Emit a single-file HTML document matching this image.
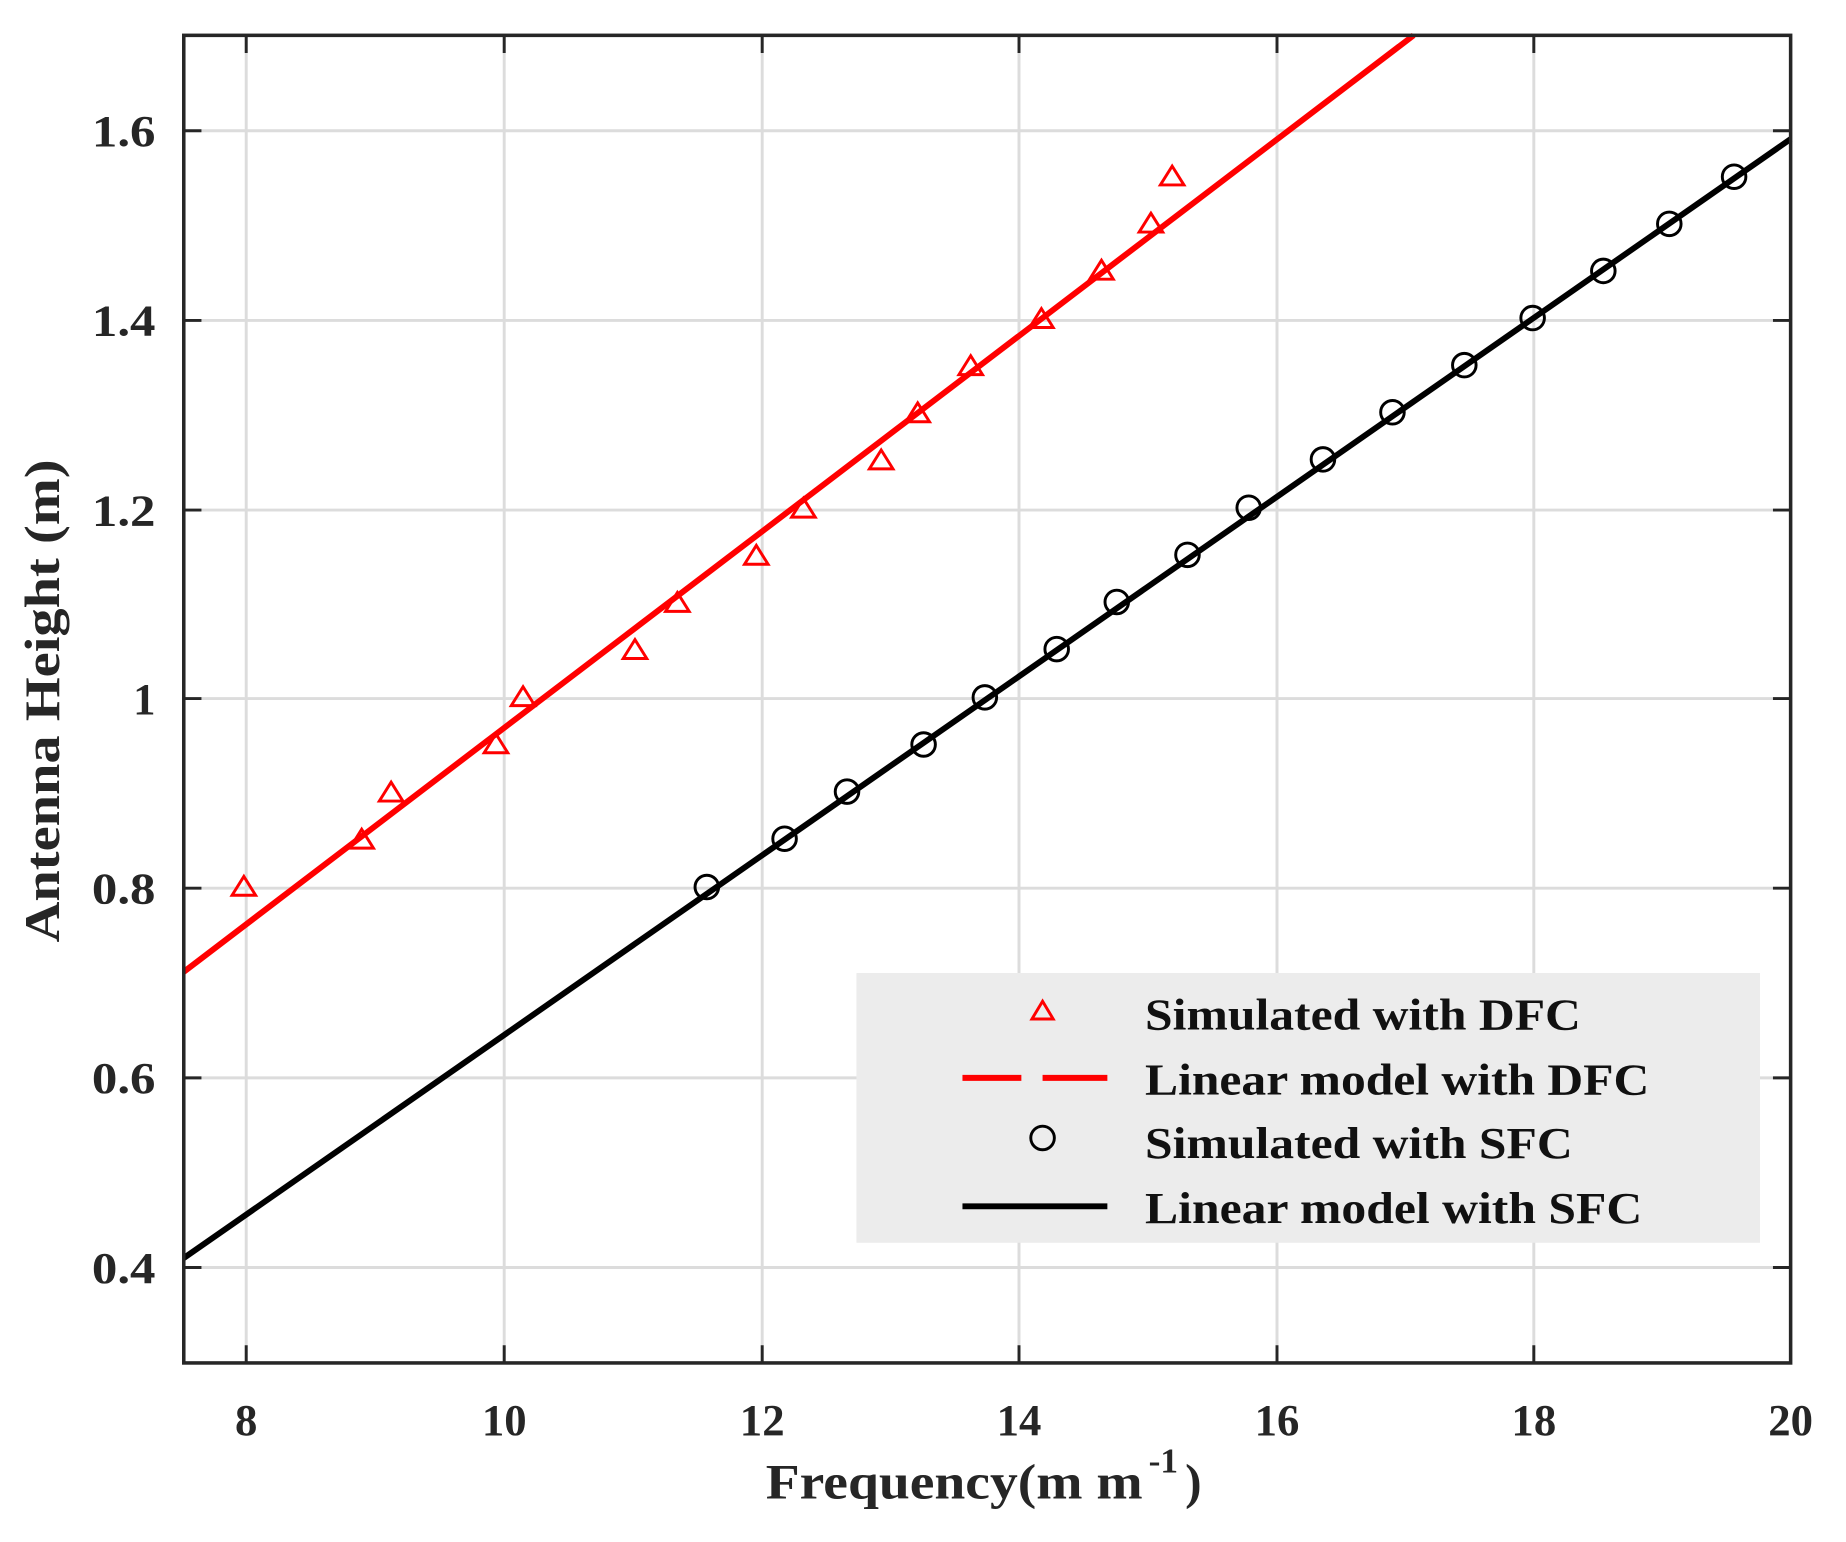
<!DOCTYPE html>
<html><head><meta charset="utf-8"><style>html,body{margin:0;padding:0;background:#fff}svg{display:block}</style></head><body>
<svg width="1846" height="1542" viewBox="0 0 1567 1309" preserveAspectRatio="none" xmlns="http://www.w3.org/2000/svg" font-family="Liberation Serif, serif" font-weight="bold">
<rect x="0" y="0" width="1567" height="1309" fill="#fff"/>
<g stroke="#dcdcdc" stroke-width="2.5">
<line x1="209" y1="30" x2="209" y2="1157"/><line x1="428" y1="30" x2="428" y2="1157"/><line x1="647" y1="30" x2="647" y2="1157"/><line x1="865" y1="30" x2="865" y2="1157"/><line x1="1084" y1="30" x2="1084" y2="1157"/><line x1="1302" y1="30" x2="1302" y2="1157"/>
<line x1="156" y1="111" x2="1520" y2="111"/><line x1="156" y1="272" x2="1520" y2="272"/><line x1="156" y1="433" x2="1520" y2="433"/><line x1="156" y1="593" x2="1520" y2="593"/><line x1="156" y1="754" x2="1520" y2="754"/><line x1="156" y1="915" x2="1520" y2="915"/><line x1="156" y1="1076" x2="1520" y2="1076"/>
</g>
<g stroke="#262626" stroke-width="2.5">
<path d="M209 30v15M428 30v15M647 30v15M865 30v15M1084 30v15M1302 30v15M209 1157v-15M428 1157v-15M647 1157v-15M865 1157v-15M1084 1157v-15M1302 1157v-15"/>
<path d="M156 111h15M156 272h15M156 433h15M156 593h15M156 754h15M156 915h15M156 1076h15M1520 111h-15M1520 272h-15M1520 433h-15M1520 593h-15M1520 754h-15M1520 915h-15M1520 1076h-15"/>
</g>
<line x1="156" y1="825" x2="1200" y2="30" stroke="#f00" stroke-width="5"/>
<line x1="156" y1="1068" x2="1520" y2="118" stroke="#000" stroke-width="5"/>
<g fill="none" stroke="#f00" stroke-width="2.5">
<polygon points="207,744 197,760 217,760"/><polygon points="307,704 297,720 317,720"/><polygon points="332,664 322,680 342,680"/><polygon points="421,623 411,639 431,639"/><polygon points="444,583 434,599 454,599"/><polygon points="539,543 529,559 549,559"/><polygon points="575,503 565,519 585,519"/><polygon points="642,463 632,479 652,479"/><polygon points="682,423 672,439 692,439"/><polygon points="748,382 738,398 758,398"/><polygon points="779,342 769,358 789,358"/><polygon points="824,302 814,318 834,318"/><polygon points="884,262 874,278 894,278"/><polygon points="935,221 925,237 945,237"/><polygon points="977,181 967,197 987,197"/><polygon points="995,141 985,157 1005,157"/>
</g>
<g fill="none" stroke="#000" stroke-width="2.5">
<circle cx="600" cy="753" r="10"/><circle cx="666" cy="712" r="10"/><circle cx="719" cy="672" r="10"/><circle cx="784" cy="632" r="10"/><circle cx="836" cy="592" r="10"/><circle cx="897" cy="551" r="10"/><circle cx="948" cy="511" r="10"/><circle cx="1008" cy="471" r="10"/><circle cx="1060" cy="431" r="10"/><circle cx="1123" cy="390" r="10"/><circle cx="1182" cy="350" r="10"/><circle cx="1243" cy="310" r="10"/><circle cx="1301" cy="270" r="10"/><circle cx="1361" cy="230" r="10"/><circle cx="1417" cy="190" r="10"/><circle cx="1472" cy="150" r="10"/>
</g>
<rect x="156" y="30" width="1364" height="1127" fill="none" stroke="#262626" stroke-width="3"/>
<rect x="727" y="826" width="767" height="229" fill="#ececec"/>
<polygon points="885,850 876,865 894,865" fill="none" stroke="#f00" stroke-width="2.5"/>
<path d="M817 915h50M885 915h55" stroke="#f00" stroke-width="5"/>
<circle cx="885" cy="966" r="10" fill="none" stroke="#000" stroke-width="2.5"/>
<path d="M817 1024h123" stroke="#000" stroke-width="5"/>
<g font-size="38" fill="#111">
<text x="972" y="874" textLength="370" lengthAdjust="spacingAndGlyphs">Simulated with DFC</text>
<text x="972" y="929" textLength="428" lengthAdjust="spacingAndGlyphs">Linear model with DFC</text>
<text x="972" y="983" textLength="363" lengthAdjust="spacingAndGlyphs">Simulated with SFC</text>
<text x="972" y="1038" textLength="422" lengthAdjust="spacingAndGlyphs">Linear model with SFC</text>
</g>
<g font-size="38" fill="#262626" text-anchor="end">
<text x="132" y="124" textLength="54" lengthAdjust="spacingAndGlyphs">1.6</text><text x="132" y="285" textLength="54" lengthAdjust="spacingAndGlyphs">1.4</text><text x="132" y="446" textLength="54" lengthAdjust="spacingAndGlyphs">1.2</text><text x="132" y="606">1</text><text x="132" y="767" textLength="54" lengthAdjust="spacingAndGlyphs">0.8</text><text x="132" y="928" textLength="54" lengthAdjust="spacingAndGlyphs">0.6</text><text x="132" y="1089" textLength="54" lengthAdjust="spacingAndGlyphs">0.4</text>
</g>
<g font-size="38" fill="#262626" text-anchor="middle">
<text x="209" y="1218">8</text><text x="428" y="1218">10</text><text x="647" y="1218">12</text><text x="865" y="1218">14</text><text x="1084" y="1218">16</text><text x="1302" y="1218">18</text><text x="1520" y="1218">20</text>
</g>
<text x="650" y="1272" font-size="42" fill="#262626" textLength="320" lengthAdjust="spacingAndGlyphs">Frequency(m m</text>
<text x="975" y="1250" font-size="30" fill="#262626">-1</text>
<text x="1006" y="1272" font-size="42" fill="#262626">)</text>
<text transform="translate(50,595) rotate(-90)" font-size="42" fill="#262626" text-anchor="middle" textLength="410" lengthAdjust="spacingAndGlyphs">Antenna  Height (m)</text>
</svg>
</body></html>
